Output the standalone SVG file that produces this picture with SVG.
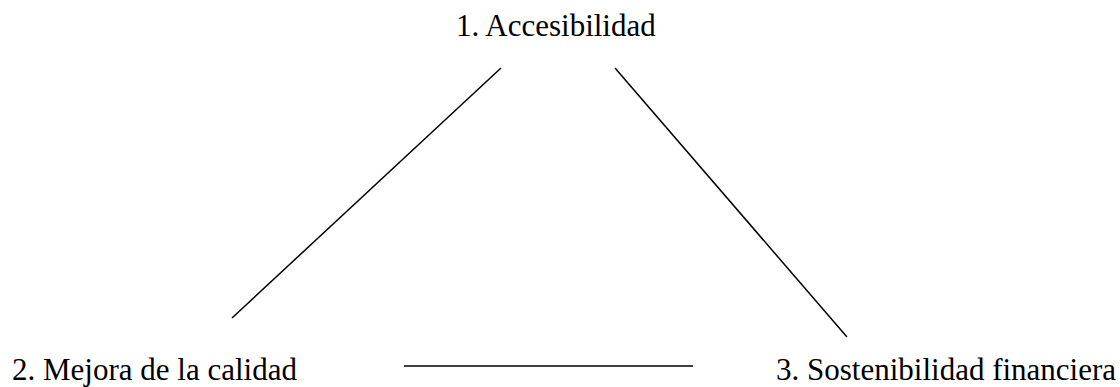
<svg xmlns="http://www.w3.org/2000/svg" width="1120" height="387" viewBox="0 0 1120 387">
<style>
text { font-family: "Liberation Serif", "Times New Roman", serif; font-size: 31px; fill: #000; }
.c { stroke: #000; stroke-width: 1.5; fill: none; }
</style>
<rect width="1120" height="387" fill="#fff"/>
<g id="node1"><text x="456" y="36">1. Accesibilidad</text></g>
<g id="node2"><text x="12" y="380">2. Mejora de la calidad</text></g>
<g id="node3"><text x="776" y="380">3. Sostenibilidad financiera</text></g>
<g id="connectors">
<line class="c" x1="501" y1="68" x2="232" y2="318"/>
<line class="c" x1="615" y1="68" x2="847" y2="337"/>
<line class="c" x1="404" y1="366" x2="693" y2="366"/>
</g>
</svg>
